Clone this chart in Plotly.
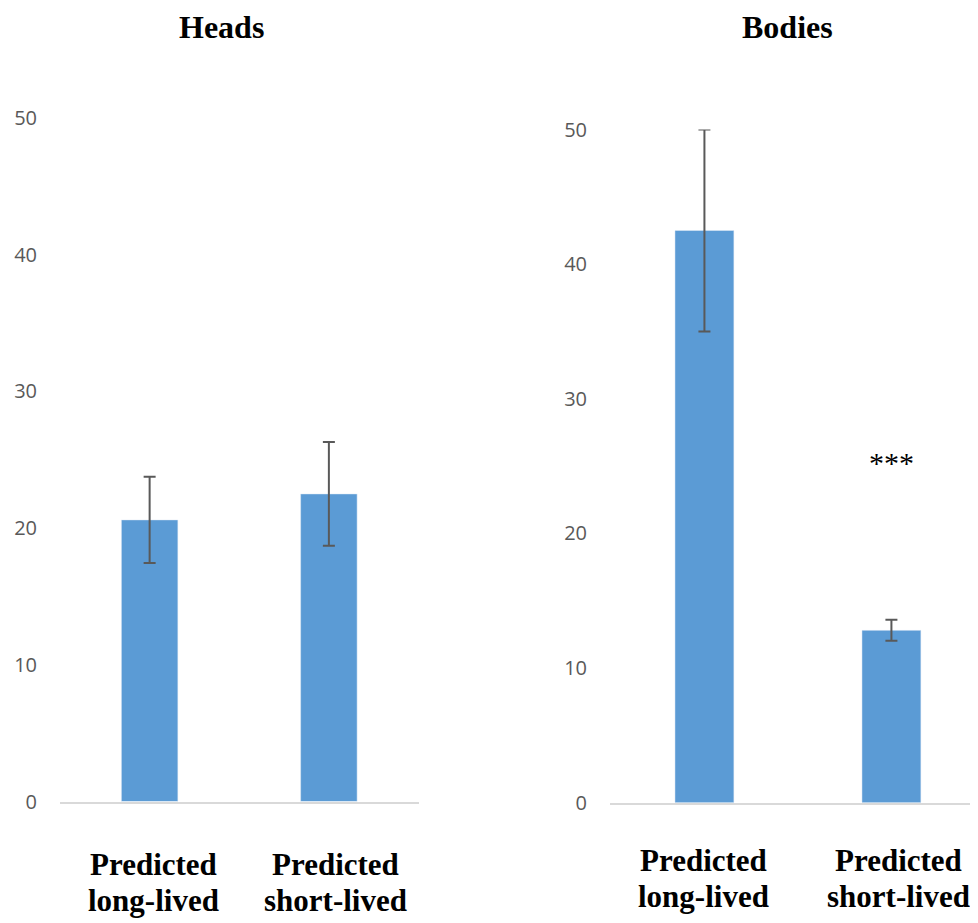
import plotly.graph_objects as go

categories = ["Predicted long-lived", "Predicted short-lived"]
category_lines = [("Predicted", "long-lived"), ("Predicted", "short-lived")]
heads_values = [20.6, 22.5]
heads_errors = [3.15, 3.8]
bodies_values = [42.5, 12.8]
bodies_errors = [7.5, 0.78]
y_ticks = [0, 10, 20, 30, 40, 50]
panel_titles = ["Heads", "Bodies"]
significance = "***"

W, H = 978, 923
OFF = 8  # page body margin offset compensation (px)
bar_color = "#5b9bd5"
err = dict(type="data", color="#595959", thickness=2, width=6)


def px_x(v):
    return (v - OFF) / W


def px_y(v):
    return 1 - (v - OFF) / H


fig = go.Figure()
fig.add_trace(go.Bar(x=categories, y=heads_values, marker_color=bar_color,
                     error_y=dict(err, array=heads_errors), xaxis="x", yaxis="y",
                     showlegend=False))
fig.add_trace(go.Bar(x=categories, y=bodies_values, marker_color=bar_color,
                     error_y=dict(err, array=bodies_errors), xaxis="x2", yaxis="y2",
                     showlegend=False))

xcommon = dict(showline=True, linecolor="#d9d9d9", linewidth=1.5, showgrid=False,
               zeroline=False, ticks="", showticklabels=False, automargin=False)
ycommon = dict(showline=False, showgrid=False, zeroline=False, range=[0, 50],
               tickvals=y_ticks, ticklabelstandoff=22, automargin=False,
               tickfont=dict(family="Open Sans", size=20, color="#595959"))

fig.update_layout(
    width=W, height=H,
    margin=dict(l=0, r=0, t=0, b=0),
    plot_bgcolor="white", paper_bgcolor="white",
    bargap=0.685,
    xaxis=dict(xcommon, domain=[px_x(60), px_x(418.5)], anchor="y", range=[-0.5, 1.5]),
    yaxis=dict(ycommon, domain=[px_y(801.5), px_y(118)], anchor="x"),
    xaxis2=dict(xcommon, domain=[px_x(610), px_x(978)], anchor="y2", range=[-0.505, 1.463]),
    yaxis2=dict(ycommon, domain=[px_y(802.7), px_y(129.5)], anchor="x2"),
)

label_font = dict(family="Liberation Serif", size=31, color="black", weight="bold")
# (axis, category index, x shift px, line-1 middle y px, line-2 middle y px)
label_specs = [
    ("x", 0, 4, 864.5, 900.5),
    ("x", 1, 7, 864.5, 900.5),
    ("x2", 0, -1, 860.5, 896.5),
    ("x2", 1, 7, 860.5, 896.5),
]
for xref, ci, xs, y1, y2 in label_specs:
    for line, ypx in zip(category_lines[ci], (y1, y2)):
        fig.add_annotation(text=line, x=categories[ci], xref=xref, xshift=xs,
                           y=px_y(ypx), yref="paper", xanchor="center", yanchor="middle",
                           showarrow=False, font=label_font)

title_font = dict(family="Liberation Serif", size=32, color="black", weight="bold")
for title, cx in zip(panel_titles, (221, 787)):
    fig.add_annotation(text=title, x=px_x(cx), y=1.0, xref="paper", yref="paper",
                       xanchor="center", yanchor="top", borderpad=0,
                       showarrow=False, font=title_font)
fig.add_annotation(text=significance, x=categories[1], y=25.3, xref="x2", yref="y2",
                   xanchor="center", yanchor="middle", showarrow=False,
                   font=dict(family="Liberation Serif", size=30, color="black"))

fig.write_html("out.html")
